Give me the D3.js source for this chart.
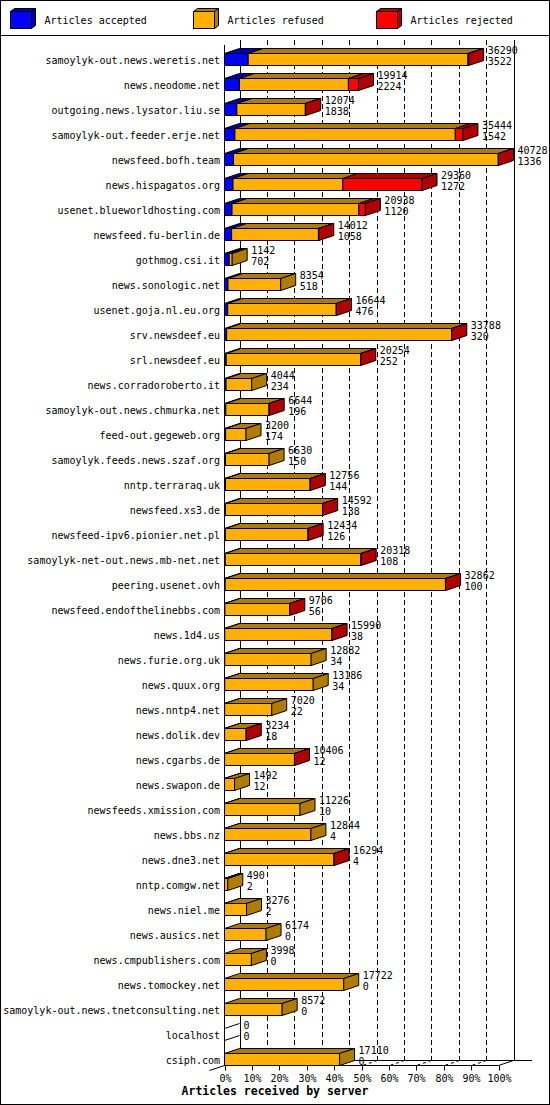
<!DOCTYPE html>
<html>
<head>
<meta charset="utf-8">
<script src="https://cdn.jsdelivr.net/npm/d3@7/dist/d3.min.js"></script>
<style>
  html, body { margin: 0; padding: 0; background: #fff; }
  svg text { font-family: "DejaVu Sans Mono", "Liberation Mono", monospace; }
</style>
</head>
<body>
<svg id="chart" width="550" height="1105"></svg>
<script>
// ---------------- DATA ----------------
const servers = [
  "samoylyk-out.news.weretis.net", "news.neodome.net", "outgoing.news.lysator.liu.se",
  "samoylyk-out.feeder.erje.net", "newsfeed.bofh.team", "news.hispagatos.org",
  "usenet.blueworldhosting.com", "newsfeed.fu-berlin.de", "gothmog.csi.it",
  "news.sonologic.net", "usenet.goja.nl.eu.org", "srv.newsdeef.eu", "srl.newsdeef.eu",
  "news.corradoroberto.it", "samoylyk-out.news.chmurka.net", "feed-out.gegeweb.org",
  "samoylyk.feeds.news.szaf.org", "nntp.terraraq.uk", "newsfeed.xs3.de",
  "newsfeed-ipv6.pionier.net.pl", "samoylyk-net-out.news.mb-net.net", "peering.usenet.ovh",
  "newsfeed.endofthelinebbs.com", "news.1d4.us", "news.furie.org.uk", "news.quux.org",
  "news.nntp4.net", "news.dolik.dev", "news.cgarbs.de", "news.swapon.de",
  "newsfeeds.xmission.com", "news.bbs.nz", "news.dne3.net", "nntp.comgw.net",
  "news.niel.me", "news.ausics.net", "news.cmpublishers.com", "news.tomockey.net",
  "samoylyk-out.news.tnetconsulting.net", "localhost", "csiph.com"
];
const totals = [
  36290, 19914, 12074, 35444, 40728, 29360, 20938, 14012, 1142, 8354, 16644, 33788, 20254,
  4044, 6644, 3200, 6630, 12756, 14592, 12434, 20318, 32862, 9706, 15990, 12882, 13186,
  7020, 3234, 10406, 1492, 11226, 12844, 16294, 490, 3276, 6174, 3998, 17722, 8572, 0, 17110
];
const accepted = [
  3522, 2224, 1838, 1542, 1336, 1272, 1120, 1058, 702, 518, 476, 320, 252,
  234, 196, 174, 150, 144, 138, 126, 108, 100, 56, 38, 34, 34,
  22, 18, 12, 12, 10, 4, 4, 2, 2, 0, 0, 0, 0, 0, 0
];
// (red part of each bar)
const rejected = [
  100, 1500, 60, 1140, 40, 11780, 980, 50, 0, 0, 40, 30, 40,
  0, 20, 0, 0, 30, 30, 20, 40, 20, 10, 20, 0, 0,
  0, 10, 10, 0, 0, 0, 10, 0, 0, 0, 0, 0, 0, 0, 0
];
const seriesNames = ["Articles accepted", "Articles refused", "Articles rejected"];
const seriesColors = ["#0000ff", "#ffb000", "#ff0000"];
const seriesDark   = ["#0000b0", "#b07c00", "#b00000"];
const pctTicks = [0, 10, 20, 30, 40, 50, 60, 70, 80, 90, 100];
const axisTitle = "Articles received by server";

// ---------------- DRAW ----------------
const W = 550, H = 1105;
const DX = 15, DY = 5, BAR_H = 12;
const svg = d3.select("#chart");

svg.append("rect").attr("x", 0.5).attr("y", 0.5).attr("width", W - 1).attr("height", H - 1)
  .attr("fill", "#fff").attr("stroke", "#000");
svg.append("line").attr("x1", 0).attr("x2", W).attr("y1", 35.5).attr("y2", 35.5).attr("stroke", "#000");

// legend
const legend = svg.append("g");
seriesNames.forEach((name, i) => {
  const lx = 10.5 + i * 183, ly = 11.5, lw = 21, lh = 17, ldx = 4, ldy = 3;
  const g = legend.append("g").attr("stroke", "#000").attr("stroke-width", 1);
  g.append("polygon").attr("points", [[lx, ly], [lx + ldx, ly - ldy], [lx + lw + ldx, ly - ldy], [lx + lw, ly]].join(" "))
    .attr("fill", seriesDark[i]);
  g.append("polygon").attr("points", [[lx + lw, ly], [lx + lw + ldx, ly - ldy], [lx + lw + ldx, ly + lh - ldy], [lx + lw, ly + lh]].join(" "))
    .attr("fill", seriesDark[i]);
  g.append("rect").attr("x", lx).attr("y", ly).attr("width", lw).attr("height", lh).attr("fill", seriesColors[i]);
  legend.append("text").attr("x", lx + 34).attr("y", 24).attr("font-size", 10).attr("fill", "#000").text(name);
});

const x = d3.scaleLinear().domain([0, d3.max(totals)]).range([224.5, 498.5]);
const xp = d3.scaleLinear().domain([0, 100]).range([224.5, 498.5]);
const y = d3.scaleBand().domain(servers).range([40, 1065]);
const floorFront = 1065.5, floorBack = floorFront - DY, topBack = 40;

const grid = svg.append("g").attr("stroke", "#000").attr("stroke-width", 1).attr("fill", "none");
pctTicks.forEach(t => {
  const fx = Math.round(xp(t)) + 0.5, bx = fx + DX;
  const inner = t > 0 && t < 100;
  grid.append("line").attr("x1", bx).attr("x2", bx).attr("y1", topBack).attr("y2", floorBack)
    .attr("stroke-dasharray", inner ? "5,3" : null);
  if (inner) {
    grid.append("line").attr("x1", bx).attr("y1", floorBack).attr("x2", fx).attr("y2", floorFront)
      .attr("stroke-dasharray", "3,3");
  }
});
// left wall bottom edge and right floor edge
grid.append("line").attr("x1", xp(0) + DX).attr("y1", floorBack).attr("x2", xp(0) - DX).attr("y2", floorFront + DY);
grid.append("line").attr("x1", xp(100)).attr("y1", floorFront).attr("x2", xp(100) + DX).attr("y2", floorBack);
grid.append("line").attr("x1", xp(0) + DX).attr("y1", floorBack).attr("x2", 532).attr("y2", floorBack);
grid.append("line").attr("x1", xp(0)).attr("y1", floorFront).attr("x2", xp(100)).attr("y2", floorFront);
grid.append("line").attr("x1", xp(0)).attr("y1", topBack + DY).attr("x2", xp(0)).attr("y2", floorFront);

// x axis ticks and labels
const axisG = svg.append("g");
pctTicks.forEach(t => {
  const fx = Math.round(xp(t)) + 0.5;
  axisG.append("line").attr("x1", fx).attr("x2", fx).attr("y1", floorFront).attr("y2", floorFront + 5).attr("stroke", "#000");
  axisG.append("text").attr("x", fx).attr("y", 1082).attr("text-anchor", "middle")
    .attr("font-size", 10).attr("fill", "#000").text(t + "%");
});
svg.append("text").attr("x", 275).attr("y", 1095).attr("text-anchor", "middle")
  .attr("font-size", 11.5).attr("font-weight", "bold").attr("fill", "#000").text(axisTitle);

// bars
const bars = svg.append("g");
servers.forEach((name, i) => {
  const top = y(name) + y.bandwidth() - BAR_H + 0.5;
  const vals = [accepted[i], totals[i] - accepted[i] - rejected[i], rejected[i]];
  const g = bars.append("g").attr("stroke", "#000").attr("stroke-width", 1);
  let cum = 0, last = -1;
  const segs = [];
  vals.forEach((v, k) => {
    if (v > 0) { segs.push({ k, x0: x(cum), x1: x(cum + v) }); last = k; }
    cum += v;
  });
  segs.forEach(s => {
    g.append("polygon").attr("points", [[s.x0, top], [s.x0 + DX, top - DY], [s.x1 + DX, top - DY], [s.x1, top]].join(" "))
      .attr("fill", seriesDark[s.k]);
  });
  segs.forEach(s => {
    g.append("rect").attr("x", s.x0).attr("y", top).attr("width", s.x1 - s.x0).attr("height", BAR_H)
      .attr("fill", seriesColors[s.k]);
  });
  const xe = x(totals[i]);
  if (last >= 0) {
    g.append("polygon").attr("points", [[xe, top], [xe + DX, top - DY], [xe + DX, top + BAR_H - DY], [xe, top + BAR_H]].join(" "))
      .attr("fill", seriesDark[last]);
  } else {
    g.append("line").attr("x1", xe).attr("y1", top).attr("x2", xe + DX).attr("y2", top - DY);
    g.append("line").attr("x1", xe).attr("y1", top + BAR_H).attr("x2", xe + DX).attr("y2", top + BAR_H - DY);
  }
  // labels
  svg.append("text").attr("x", 220).attr("y", top + 10).attr("text-anchor", "end")
    .attr("font-size", 10).attr("fill", "#000").text(name);
  svg.append("text").attr("x", xe + DX + 4).attr("y", top + 0.5)
    .attr("font-size", 10).attr("fill", "#000").text(totals[i]);
  svg.append("text").attr("x", xe + DX + 4).attr("y", top + 11)
    .attr("font-size", 10).attr("fill", "#000").text(accepted[i]);
});
</script>
</body>
</html>
